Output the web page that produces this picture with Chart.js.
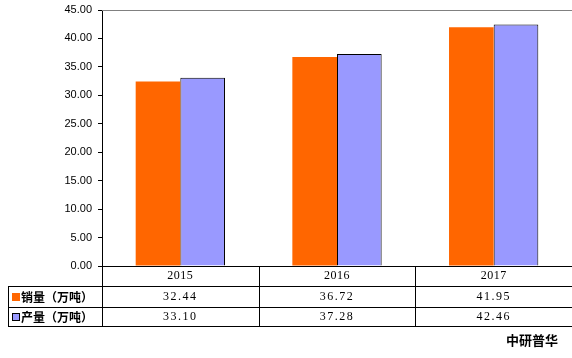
<!DOCTYPE html>
<html><head><meta charset="utf-8">
<script src="https://cdn.jsdelivr.net/npm/chart.js@4/dist/chart.umd.min.js"></script>
<style>html,body{margin:0;padding:0;background:#fff;}canvas{display:block;}</style>
</head><body>
<canvas id="c" width="572" height="358"></canvas>
<script>
const categories = ['2015', '2016', '2017'];
const salesValues = [32.44, 36.72, 41.95];
const outputValues = [33.10, 37.28, 42.46];
const seriesNames = ['销量（万吨）', '产量（万吨）'];
const yTicks = [0, 5, 10, 15, 20, 25, 30, 35, 40, 45];
const sourceText = '中研普华';

const tablePlugin = {
  id: 'tablePlugin',
  afterDraw(chart) {
    const ctx = chart.ctx;
    const ca = chart.chartArea;
    const xs = chart.scales.x;
    const n = categories.length;
    const bounds = [ca.left];
    for (let i = 1; i < n; i++) bounds.push((xs.getPixelForValue(i - 1) + xs.getPixelForValue(i)) / 2);
    bounds.push(ca.right);
    const tableLeft = 8;
    const rowY = [ca.bottom, 286.5, 307.5, 326.5];
    ctx.save();
    ctx.strokeStyle = '#808080';
    ctx.lineWidth = 1;
    ctx.beginPath();
    ctx.moveTo(ca.left, Math.round(ca.top) + 0.5);
    ctx.lineTo(572, Math.round(ca.top) + 0.5);
    ctx.stroke();
    ctx.strokeStyle = '#000';
    ctx.beginPath();
    ctx.moveTo(ca.left, Math.round(rowY[0]) + 0.5); ctx.lineTo(572, Math.round(rowY[0]) + 0.5);
    for (let r = 1; r < rowY.length; r++) {
      ctx.moveTo(tableLeft, rowY[r]); ctx.lineTo(572, rowY[r]);
    }
    for (let i = 0; i < bounds.length - 1; i++) {
      const x = Math.round(bounds[i]) + 0.5;
      ctx.moveTo(x, rowY[0]); ctx.lineTo(x, rowY[3]);
    }
    ctx.moveTo(tableLeft + 0.5, rowY[1]); ctx.lineTo(tableLeft + 0.5, rowY[3]);
    ctx.stroke();
    ctx.fillStyle = '#000';
    ctx.textAlign = 'center';
    ctx.textBaseline = 'middle';
    ctx.font = '12px "Liberation Serif", serif';
    const rows = [salesValues, outputValues];
    for (let i = 0; i < n; i++) {
      const cx = (bounds[i] + bounds[i + 1]) / 2;
      ctx.letterSpacing = '0.5px';
      ctx.fillText(categories[i], cx, (rowY[0] + rowY[1]) / 2);
      ctx.letterSpacing = '1.5px';
      for (let r = 0; r < rows.length; r++) {
        ctx.fillText(rows[r][i].toFixed(2), cx, (rowY[r + 1] + rowY[r + 2]) / 2);
      }
    }
    ctx.letterSpacing = '0px';
    const colors = chart.data.datasets.map(d => d.backgroundColor);
    ctx.textAlign = 'left';
    ctx.font = 'bold 12px "Noto Sans CJK SC", sans-serif';
    for (let r = 0; r < seriesNames.length; r++) {
      const cy = (rowY[r + 1] + rowY[r + 2]) / 2;
      ctx.fillStyle = colors[r];
      ctx.fillRect(12, cy - 4, 8, 8);
      if (r === 1) { ctx.strokeStyle = '#000'; ctx.strokeRect(12.5, cy - 3.5, 7, 7); }
      ctx.fillStyle = '#000';
      ctx.fillText(seriesNames[r], 21, cy);
    }
    ctx.font = 'bold 13px "Noto Sans CJK SC", sans-serif';
    ctx.textAlign = 'left';
    ctx.fillText(sourceText, 506, 340);
    ctx.restore();
  }
};

new Chart(document.getElementById('c'), {
  type: 'bar',
  data: {
    labels: categories,
    datasets: [
      { label: seriesNames[0], data: salesValues, backgroundColor: '#FF6600', borderWidth: 0 },
      { label: seriesNames[1], data: outputValues, backgroundColor: '#9999FF', borderColor: '#000', borderWidth: 1, borderSkipped: 'bottom' }
    ]
  },
  options: {
    responsive: false,
    animation: false,
    events: [],
    layout: { padding: { top: 10, right: 0, bottom: 92, left: 0 } },
    plugins: { legend: { display: false }, tooltip: { enabled: false } },
    datasets: { bar: { categoryPercentage: 0.57, barPercentage: 1.0 } },
    scales: {
      x: { display: false },
      y: {
        min: 0, max: 45,
        afterFit(s) { s.width = 102; s.paddingTop = 0; s.paddingBottom = 0; },
        afterBuildTicks(s) { s.ticks = yTicks.map(v => ({ value: v })); },
        ticks: { padding: 6, color: '#000', font: { family: '"Liberation Sans", Arial, sans-serif', size: 11 }, callback: v => Number(v).toFixed(2) },
        grid: { drawOnChartArea: false, drawTicks: true, tickLength: 4, color: '#000' },
        border: { display: true, color: '#000', width: 1 }
      }
    }
  },
  plugins: [tablePlugin]
});
</script>
</body></html>
